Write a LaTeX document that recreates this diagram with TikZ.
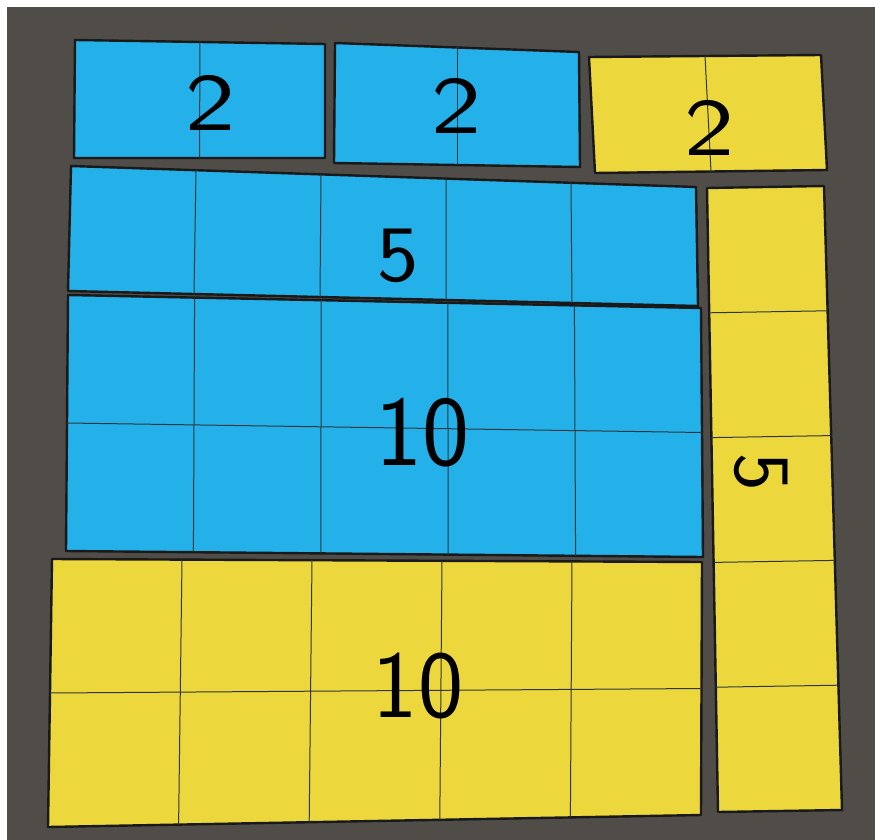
\documentclass[tikz,border=0pt]{standalone}
\usetikzlibrary{calc}
\definecolor{bgdark}{RGB}{80,76,72}
\definecolor{tileblue}{RGB}{36,176,232}
\definecolor{tileyellow}{RGB}{236,215,60}
\definecolor{gridline}{RGB}{45,55,60}
\tikzset{
  tileedge/.style={draw=black!90, line width=2.4pt, line join=round},
  bluetile/.style={tileedge, fill=tileblue},
  yellowtile/.style={tileedge, fill=tileyellow},
  gridln/.style={draw=gridline, line width=1pt},
  hand/.style={font=\sffamily\fontsize{#1}{#1}\selectfont, text=black, inner sep=0pt},
}
\begin{document}
\begin{tikzpicture}[x=1pt,y=-1pt]
\useasboundingbox (0,0) rectangle (875,840);
\fill[white] (0,0) rectangle (875,840);
\fill[bgdark] (7,7) rectangle (875,840);

% ---------- Tile A : blue 2 ----------
\coordinate (a1) at (75,40);  \coordinate (a2) at (325,44);
\coordinate (a3) at (325,158); \coordinate (a4) at (74,158);
\filldraw[bluetile] (a1)--(a2)--(a3)--(a4)--cycle;
\draw[gridln] ($(a1)!0.5!(a2)$) -- ($(a4)!0.5!(a3)$);
\node[hand=82, xscale=1.3] (la) at (211,103) {2};

% ---------- Tile B : blue 2 ----------
\coordinate (b1) at (335,43);  \coordinate (b2) at (579,52);
\coordinate (b3) at (580,167); \coordinate (b4) at (334,163);
\filldraw[bluetile] (b1)--(b2)--(b3)--(b4)--cycle;
\draw[gridln] ($(b1)!0.5!(b2)$) -- ($(b4)!0.5!(b3)$);
\node[hand=82, xscale=1.3] (lb) at (457,106) {2};

% ---------- Tile C : yellow 2 ----------
\coordinate (c1) at (589,57);  \coordinate (c2) at (821,55);
\coordinate (c3) at (827,170); \coordinate (c4) at (595,173);
\filldraw[yellowtile] (c1)--(c2)--(c3)--(c4)--cycle;
\draw[gridln] ($(c1)!0.5!(c2)$) -- ($(c4)!0.5!(c3)$);
\node[hand=82, xscale=1.3] (lc) at (710,128) {2};

% ---------- Tile D : blue 5 ----------
\coordinate (d1) at (71,166);  \coordinate (d2) at (696,187);
\coordinate (d3) at (698,306); \coordinate (d4) at (68,291);
\filldraw[bluetile] (d1)--(d2)--(d3)--(d4)--cycle;
\foreach \k in {1,2,3,4}
  \draw[gridln] ($(d1)!\k/5!(d2)$) -- ($(d4)!\k/5!(d3)$);
\node[hand=80, xscale=1.1] (ld) at (398,256) {5};

% ---------- Tile E : blue 10 ----------
\coordinate (e1) at (68,295);  \coordinate (e2) at (701,308);
\coordinate (e3) at (703,557); \coordinate (e4) at (66,551);
\filldraw[bluetile] (e1)--(e2)--(e3)--(e4)--cycle;
\foreach \k in {1,2,3,4}
  \draw[gridln] ($(e1)!\k/5!(e2)$) -- ($(e4)!\k/5!(e3)$);
\draw[gridln] ($(e1)!0.5!(e4)$) -- ($(e2)!0.5!(e3)$);
\node[hand=100] (le) at (422,433) {10};

% ---------- Tile F : yellow 10 ----------
\coordinate (f1) at (52,559);  \coordinate (f2) at (702,562);
\coordinate (f3) at (701,815); \coordinate (f4) at (48,827);
\filldraw[yellowtile] (f1)--(f2)--(f3)--(f4)--cycle;
\foreach \k in {1,2,3,4}
  \draw[gridln] ($(f1)!\k/5!(f2)$) -- ($(f4)!\k/5!(f3)$);
\draw[gridln] ($(f1)!0.5!(f4)$) -- ($(f2)!0.5!(f3)$);
\node[hand=96] (lf) at (418,686) {10};

% ---------- Tile G : yellow 5 (vertical) ----------
\coordinate (g1) at (707,188);  \coordinate (g2) at (824,186);
\coordinate (g3) at (842,810);  \coordinate (g4) at (718,812);
\filldraw[yellowtile] (g1)--(g2)--(g3)--(g4)--cycle;
\foreach \k in {1,2,3,4}
  \draw[gridln] ($(g1)!\k/5!(g4)$) -- ($(g2)!\k/5!(g3)$);
\node[hand=80, rotate=-90] (lg) at (761,472) {5};
\end{tikzpicture}
\end{document}
